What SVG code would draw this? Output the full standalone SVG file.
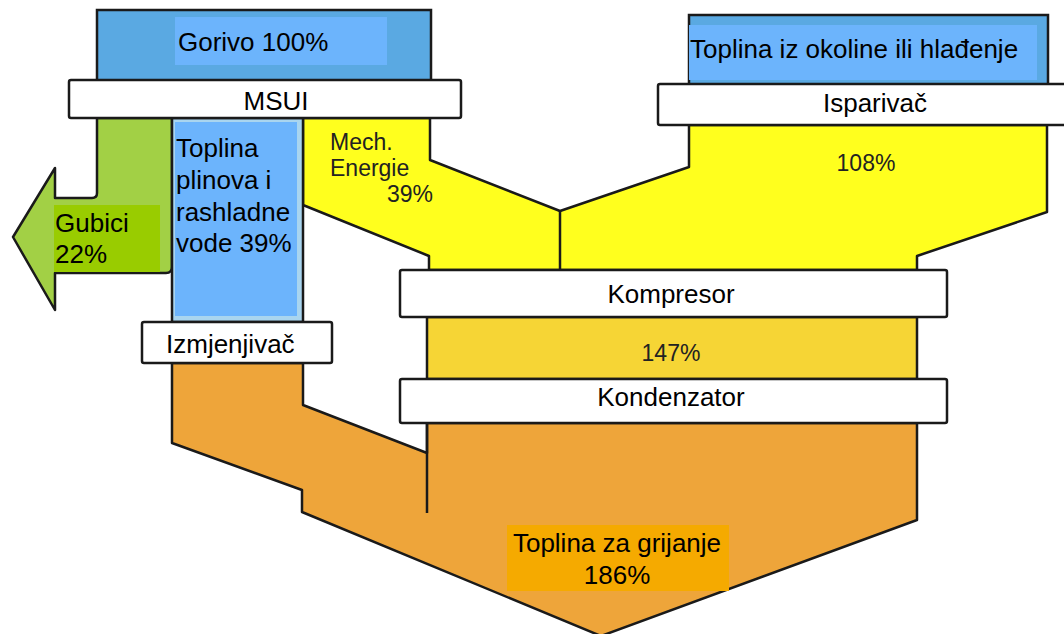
<svg xmlns="http://www.w3.org/2000/svg" width="1064" height="634" viewBox="0 0 1064 634">
<style>
.ln{stroke:#1a1a1a;stroke-width:2.5;stroke-linejoin:round;fill:none}
.box{fill:#fff;stroke:#1a1a1a;stroke-width:2.5}
.t{font-family:"Liberation Sans",Arial,sans-serif;font-size:26px;fill:#000}
.s{font-family:"Liberation Sans",Arial,sans-serif;font-size:23px;fill:#222}
.mid{text-anchor:middle}
</style>
<rect width="1064" height="634" fill="#fff"/>
<g id="flows">
  <!-- heating output (orange) -->
  <path d="M172,363 L172,443 L302,490 L302,512 L601,636 L917,520 L917,423 L427,423 L427,453 L303,405 L303,363 Z" fill="#eea53a" class="ln" style="fill:#eea53a"/>
  <line x1="427" y1="423" x2="427" y2="513" class="ln"/>
  <!-- compressor to condenser (yellow-gold) -->
  <rect x="427" y="317" width="490" height="62" fill="#f6d535" stroke="#1a1a1a" stroke-width="2.5"/>
  <!-- mech energy + evaporator flow (yellow) -->
  <path d="M303,118 L303,205 L429,256 L429,270 L917,270 L917,256 L1047,212 L1047,125 L689,125 L689,167 L560,211 L430,160 L430,118 Z" style="fill:#ffff1e" class="ln"/>
  <line x1="560" y1="211" x2="560" y2="270" class="ln"/>
  <!-- losses arrow (green) -->
  <path d="M97,118 L97,193 Q97,198 92,198 L55,198 L55,168 L13,237 L55,310 L55,273 L166,273 Q172,273 172,267 L172,118 Z" style="fill:#a2d045" class="ln"/>
  <!-- exhaust heat column (blue) -->
  <rect x="172" y="118" width="131" height="204" fill="#a9d5ef" stroke="#1a1a1a" stroke-width="2.5"/>
</g>
<g id="gorivo">
  <rect x="97" y="10" width="334" height="72" fill="#5aa9e2" stroke="#1a1a1a" stroke-width="2.5"/>
  <rect x="175" y="17" width="212" height="48" fill="#6cb4fc"/>
  <text class="t" x="178" y="51">Gorivo 100%</text>
</g>
<g id="okolina">
  <rect x="689" y="15" width="359" height="70" fill="#5aa9e2" stroke="#1a1a1a" stroke-width="2.5"/>
  <rect x="689" y="25" width="348" height="55" fill="#6cb4fc"/>
  <text class="t" x="690" y="58">Toplina iz okoline ili hlađenje</text>
</g>
<g id="msui">
  <rect class="box" x="69" y="80" width="392" height="38" rx="2"/>
  <text class="t mid" x="276" y="110">MSUI</text>
</g>
<g id="isparivac">
  <rect class="box" x="658" y="84" width="420" height="41" rx="2"/>
  <text class="t mid" x="875" y="112">Isparivač</text>
</g>
<g id="gubici">
  <rect x="54" y="205" width="106" height="67" fill="#99cc00"/>
  <text class="t" x="55" y="232">Gubici</text>
  <text class="t" x="55" y="263">22%</text>
</g>
<g id="toplina-plinova">
  <rect x="175" y="122" width="122" height="194" fill="#6cb4fc"/>
  <text class="t" x="176" y="157">Toplina</text>
  <text class="t" x="176" y="189">plinova i</text>
  <text class="t" x="176" y="221">rashladne</text>
  <text class="t" x="176" y="252">vode 39%</text>
</g>
<g id="mech">
  <text class="s" x="330" y="150">Mech.</text>
  <text class="s" x="330" y="176">Energie</text>
  <text class="s" x="387" y="202">39%</text>
</g>
<g id="p108">
  <text class="s mid" x="866" y="171">108%</text>
</g>
<g id="izmjenjivac">
  <rect class="box" x="142" y="322" width="190" height="41" rx="2"/>
  <text class="t" x="166" y="353">Izmjenjivač</text>
</g>
<g id="kompresor">
  <rect class="box" x="400" y="270" width="547" height="47" rx="2"/>
  <text class="t mid" x="671" y="303">Kompresor</text>
</g>
<g id="p147">
  <text class="s mid" x="671" y="361">147%</text>
</g>
<g id="kondenzator">
  <rect class="box" x="400" y="379" width="547" height="44" rx="2"/>
  <text class="t mid" x="671" y="406">Kondenzator</text>
</g>
<g id="grijanje">
  <rect x="507" y="525" width="222" height="66" fill="#f5aa00"/>
  <text class="t mid" x="617" y="552">Toplina za grijanje</text>
  <text class="t mid" x="617" y="584">186%</text>
</g>
</svg>
